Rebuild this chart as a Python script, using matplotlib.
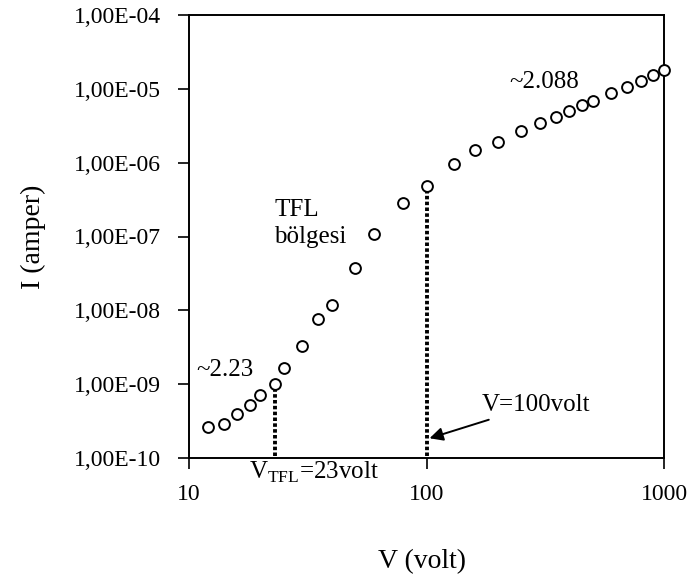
import matplotlib
matplotlib.use("Agg")
import matplotlib.pyplot as plt
from matplotlib.ticker import NullLocator

plt.rcParams['font.family'] = ['Liberation Serif', 'DejaVu Serif']
plt.rcParams['mathtext.fontset'] = 'custom'
plt.rcParams['mathtext.rm'] = 'Liberation Serif'

# Data
voltage = [12, 14, 16, 18, 20, 23, 25, 30, 35, 40, 50, 60, 80, 100, 130, 160,
           200, 250, 300, 350, 400, 450, 500, 600, 700, 800, 900, 1000]
current = [2.6e-10, 2.9e-10, 4.0e-10, 5.2e-10, 7.1e-10, 1.0e-9, 1.65e-9, 3.3e-9,
           7.6e-9, 1.17e-8, 3.8e-8, 1.08e-7, 2.85e-7, 4.8e-7, 9.5e-7, 1.48e-6,
           1.92e-6, 2.68e-6, 3.4e-6, 4.1e-6, 5.0e-6, 6.0e-6, 6.8e-6, 8.8e-6,
           1.06e-5, 1.29e-5, 1.55e-5, 1.8e-5]

x_ticks = [10, 100, 1000]
x_tick_labels = ["10", "100", "1000"]
y_ticks = [1e-10, 1e-9, 1e-8, 1e-7, 1e-6, 1e-5, 1e-4]
y_tick_labels = ["1,00E-10", "1,00E-09", "1,00E-08", "1,00E-07",
                 "1,00E-06", "1,00E-05", "1,00E-04"]

v_tfl = 23
i_tfl = 1.0e-9
v_100 = 100
i_100 = 4.8e-7

fig = plt.figure(figsize=(6.93, 5.82), dpi=100)
ax = fig.add_axes([189/693, 1 - 458/582, (664 - 189)/693, (458 - 15)/582])

ax.set_xscale('log')
ax.set_yscale('log')
ax.set_xlim(10, 1000)
ax.set_ylim(1e-10, 1e-4)

ax.plot(voltage, current, linestyle='none', marker='o', markersize=7.8,
        markerfacecolor='white', markeredgecolor='black', markeredgewidth=1.4,
        clip_on=False, zorder=3)

# dotted guide lines
for vx, iy in [(v_tfl, i_tfl), (v_100, i_100)]:
    ax.plot([vx, vx], [1.07e-10, iy], color='black', linewidth=2.8,
            dashes=(0.9, 0.6), zorder=2)

ax.set_xticks(x_ticks)
ax.set_xticklabels(x_tick_labels)
ax.set_yticks(y_ticks)
ax.set_yticklabels(y_tick_labels)
ax.xaxis.set_minor_locator(NullLocator())
ax.yaxis.set_minor_locator(NullLocator())
ax.tick_params(axis='both', direction='out', length=8, width=1.2,
               labelsize=17, colors='black')
ax.tick_params(axis='y', pad=12)
ax.tick_params(axis='x', pad=11)
for sp in ax.spines.values():
    sp.set_linewidth(1.4)
    sp.set_color('black')

ax.set_xlabel("V (volt)", fontsize=20)
ax.set_ylabel("I (amper)", fontsize=20)
ax.xaxis.set_label_coords(0.49, -0.205)
ax.yaxis.set_label_coords(-0.30, 0.5)

# annotations
ax.text(10.7, 1.55e-9, "~2.23", fontsize=18, ha='left', va='center')
ax.text(22.8, 1.5e-7, "TFL\nbölgesi", fontsize=18, ha='left', va='center',
        linespacing=1.25)
ax.text(224, 1.24e-5, "~2.088", fontsize=18, ha='left', va='center')
ax.annotate("V=100volt", xy=(103, 1.85e-10), xytext=(170, 5.2e-10),
            fontsize=18, ha='left', va='center',
            arrowprops=dict(arrowstyle='-|>', color='black', lw=1.4,
                            mutation_scale=20, shrinkA=2, shrinkB=0))
ax.text(17.9, 6.4e-11, r"V$_{\mathrm{TFL}}$=23volt", fontsize=18,
        ha='left', va='center', clip_on=False)

fig.savefig("out.png", dpi=100)
